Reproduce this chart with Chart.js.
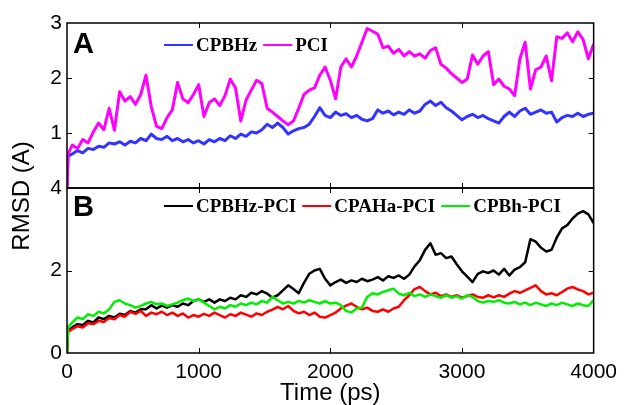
<!DOCTYPE html>
<html>
<head>
<meta charset="utf-8">
<script src="https://cdn.jsdelivr.net/npm/chart.js@4.4.0/dist/chart.umd.min.js"></script>
<style>
  html, body { margin: 0; padding: 0; background: #fff; }
  #wrap { position: relative; width: 624px; height: 405px; }
</style>
</head>
<body>
<div id="wrap"><canvas id="rmsd" width="624" height="405"></canvas></div>
<script>
// RMSD of the complexes over a 4 ns run, two stacked panels sharing the time axis

const timePs = [
  0, 8, 40, 80, 120, 160, 200, 240, 280, 320, 360, 400, 440, 480, 520, 560, 600, 640, 680, 720, 760, 800, 840, 880, 920, 960, 1000,
  1040, 1080, 1120, 1160, 1200, 1240, 1280, 1320, 1360, 1400, 1440, 1480, 1520, 1560, 1600, 1640, 1680, 1720, 1760, 1800, 1840, 1880, 1920, 1960, 2000,
  2040, 2080, 2120, 2160, 2200, 2240, 2280, 2320, 2360, 2400, 2440, 2480, 2520, 2560, 2600, 2640, 2680, 2720, 2760, 2800, 2840, 2880, 2920, 2960, 3000,
  3040, 3080, 3120, 3160, 3200, 3240, 3280, 3320, 3360, 3400, 3440, 3480, 3520, 3560, 3600, 3640, 3680, 3720, 3760, 3800, 3840, 3880, 3920, 3960, 4000
]

// panel A
const cpbhz = [
  0, 0.58, 0.62, 0.68, 0.64, 0.72, 0.70, 0.76, 0.74, 0.82, 0.80, 0.84, 0.78, 0.85, 0.82, 0.90, 0.86, 0.98, 0.90, 0.88, 0.94, 0.86, 0.90, 0.84, 0.88, 0.82, 0.86,
  0.80, 0.88, 0.84, 0.90, 0.86, 0.95, 0.90, 0.98, 0.94, 1.02, 1.00, 1.06, 1.16, 1.10, 1.18, 1.10, 0.98, 1.04, 1.08, 1.10, 1.16, 1.30, 1.46, 1.32, 1.28,
  1.38, 1.32, 1.35, 1.28, 1.32, 1.25, 1.22, 1.26, 1.42, 1.36, 1.40, 1.33, 1.38, 1.34, 1.42, 1.36, 1.40, 1.52, 1.58, 1.50, 1.56, 1.46, 1.40, 1.32, 1.24,
  1.30, 1.34, 1.28, 1.32, 1.26, 1.22, 1.18, 1.30, 1.38, 1.30, 1.40, 1.45, 1.34, 1.38, 1.42, 1.36, 1.38, 1.20, 1.28, 1.32, 1.30, 1.36, 1.30, 1.34, 1.36
]
const pci = [
  0, 0.62, 0.78, 0.72, 0.88, 0.82, 1.02, 1.18, 1.06, 1.45, 1.05, 1.75, 1.58, 1.66, 1.52, 1.70, 2.05, 1.48, 1.12, 1.08, 1.28, 1.42, 1.92, 1.62, 1.55, 1.70, 1.88,
  1.30, 1.55, 1.62, 1.50, 1.68, 1.98, 1.82, 1.22, 1.60, 1.78, 1.96, 1.90, 1.45, 1.38, 1.30, 1.22, 1.15, 1.22, 1.45, 1.70, 1.78, 1.82, 2.05, 2.20, 1.96,
  1.62, 2.20, 2.35, 2.20, 2.40, 2.65, 2.90, 2.85, 2.80, 2.55, 2.58, 2.45, 2.52, 2.40, 2.48, 2.40, 2.44, 2.36, 2.50, 2.55, 2.25, 2.18, 2.08, 2.00, 1.92,
  1.98, 2.42, 2.25, 2.40, 2.48, 1.88, 1.98, 1.85, 1.80, 1.68, 2.35, 2.65, 1.80, 2.15, 2.20, 2.40, 1.95, 2.75, 2.72, 2.82, 2.66, 2.84, 2.70, 2.35, 2.62
]

// panel B
const cpbhzPci = [
  0, 0.55, 0.62, 0.70, 0.68, 0.78, 0.74, 0.86, 0.82, 0.90, 0.86, 0.95, 0.92, 1.02, 0.98, 1.06, 1.06, 1.16, 1.08, 1.15, 1.10, 1.16, 1.12, 1.20, 1.16, 1.26, 1.30,
  1.24, 1.30, 1.22, 1.30, 1.26, 1.34, 1.30, 1.40, 1.36, 1.46, 1.42, 1.50, 1.44, 1.34, 1.40, 1.52, 1.64, 1.55, 1.45, 1.70, 1.92, 2.00, 2.04, 1.80, 1.64,
  1.72, 1.78, 1.70, 1.76, 1.72, 1.80, 1.74, 1.78, 1.84, 1.76, 1.86, 1.82, 1.88, 1.80, 1.90, 2.10, 2.25, 2.50, 2.66, 2.38, 2.42, 2.30, 2.34, 2.15, 1.98,
  1.85, 1.72, 1.92, 1.98, 1.94, 2.00, 1.90, 2.04, 1.88, 2.02, 2.08, 2.20, 2.76, 2.70, 2.55, 2.46, 2.50, 2.80, 3.02, 3.10, 3.26, 3.38, 3.44, 3.36, 3.15
]
const cpahaPci = [
  0, 0.52, 0.58, 0.65, 0.62, 0.72, 0.70, 0.78, 0.75, 0.85, 0.82, 0.92, 0.88, 1.00, 0.95, 1.02, 0.90, 0.98, 0.94, 1.00, 0.92, 0.98, 0.90, 0.96, 0.86, 0.92, 0.88,
  0.95, 0.90, 0.98, 0.92, 0.86, 0.94, 0.90, 0.98, 0.93, 0.88, 0.96, 0.92, 1.00, 1.05, 1.12, 1.06, 1.14, 1.02, 0.96, 1.00, 0.92, 0.98, 0.88, 0.86, 0.92,
  0.98, 1.08, 1.15, 1.20, 1.12, 1.06, 1.10, 1.02, 1.00, 1.06, 1.00, 1.08, 1.12, 1.28, 1.40, 1.55, 1.60, 1.50, 1.42, 1.46, 1.38, 1.42, 1.36, 1.40, 1.34,
  1.38, 1.42, 1.36, 1.34, 1.40, 1.35, 1.40, 1.36, 1.44, 1.50, 1.46, 1.52, 1.58, 1.64, 1.50, 1.42, 1.45, 1.40, 1.48, 1.56, 1.60, 1.54, 1.50, 1.42, 1.46
]
const cpbhPci = [
  0, 0.62, 0.74, 0.86, 0.82, 0.94, 0.90, 1.00, 0.96, 1.06, 1.24, 1.28, 1.20, 1.16, 1.10, 1.14, 1.20, 1.24, 1.18, 1.20, 1.14, 1.18, 1.22, 1.28, 1.32, 1.26, 1.30,
  1.22, 1.14, 1.06, 1.12, 1.08, 1.16, 1.12, 1.20, 1.16, 1.22, 1.18, 1.26, 1.22, 1.36, 1.28, 1.20, 1.24, 1.20, 1.26, 1.22, 1.28, 1.24, 1.20, 1.26, 1.20,
  1.22, 1.16, 1.02, 0.98, 1.08, 1.10, 1.36, 1.45, 1.42, 1.48, 1.52, 1.56, 1.44, 1.40, 1.46, 1.38, 1.42, 1.36, 1.42, 1.38, 1.34, 1.40, 1.34, 1.38, 1.32,
  1.40, 1.36, 1.26, 1.22, 1.26, 1.24, 1.28, 1.22, 1.20, 1.24, 1.18, 1.22, 1.16, 1.22, 1.18, 1.14, 1.20, 1.16, 1.22, 1.18, 1.14, 1.20, 1.16, 1.14, 1.28
]

const timeTicks = [0, 1000, 2000, 3000, 4000]
const topTicks = [1, 2, 3]
const bottomTicks = [0, 2, 4]

const SANS = "'Liberation Sans', Arial, sans-serif"
const SERIF = "'Liberation Serif', 'Times New Roman', serif"

const panels = [
  { axis: 'yA', letter: 'A', letterDy: 30, legendDy: 22,
    legend: [['CPBHz', '#3333ff'], ['PCI', '#ff00ff']] },
  { axis: 'yB', letter: 'B', letterDy: 28, legendDy: 18,
    legend: [['CPBHz-PCI', '#000000'], ['CPAHa-PCI', '#ff0000'], ['CPBh-PCI', '#00ee00']] }
]

function series(label, values, color, axis, order, width) {
  return {
    label,
    data: timePs.map((t, i) => ({ x: t, y: values[i] })),
    yAxisID: axis,
    borderColor: color,
    borderWidth: width,
    borderJoinStyle: 'round',
    pointRadius: 0,
    tension: 0,
    order
  }
}

// box, inward tick marks, panel letters and in-panel legends
const panelDecor = {
  id: 'panelDecor',
  afterDatasetsDraw(chart) {
    const { ctx, chartArea: area, scales } = chart
    const x = scales.x
    ctx.save()
    ctx.strokeStyle = '#000'

    panels.forEach((p) => {
      const y = scales[p.axis]
      ctx.lineWidth = 1.5
      ctx.strokeRect(area.left, y.top, area.right - area.left, y.bottom - y.top)

      ctx.lineWidth = 1
      ctx.beginPath()
      timeTicks.slice(1, -1).forEach((t) => {
        const px = Math.round(x.getPixelForValue(t)) + 0.5
        ctx.moveTo(px, y.top); ctx.lineTo(px, y.top + 5)
        ctx.moveTo(px, y.bottom); ctx.lineTo(px, y.bottom - 5)
      })
      y.ticks.forEach((tk) => {
        if (tk.value <= y.min || tk.value >= y.max) return
        const py = Math.round(y.getPixelForValue(tk.value)) + 0.5
        ctx.moveTo(area.left, py); ctx.lineTo(area.left + 5, py)
        ctx.moveTo(area.right, py); ctx.lineTo(area.right - 5, py)
      })
      ctx.stroke()

      ctx.fillStyle = '#000'
      ctx.font = 'bold 29px ' + SANS
      ctx.textAlign = 'left'
      ctx.textBaseline = 'alphabetic'
      ctx.fillText(p.letter, area.left + 6, y.top + p.letterDy)

      // legend entries: short line then bold label
      ctx.font = 'bold 19px ' + SERIF
      ctx.textBaseline = 'middle'
      let lx = area.left + 97
      const ly = y.top + p.legendDy
      p.legend.forEach(([name, color]) => {
        ctx.strokeStyle = color
        ctx.lineWidth = 2
        ctx.beginPath()
        ctx.moveTo(lx, ly); ctx.lineTo(lx + 29, ly)
        ctx.stroke()
        lx += 32
        ctx.fillStyle = '#000'
        ctx.fillText(name, lx, ly + 1)
        lx += ctx.measureText(name).width + 6
      })
      ctx.strokeStyle = '#000'
    })

    // shared y title spanning both panels
    ctx.translate(22, 196)
    ctx.rotate(-Math.PI / 2)
    ctx.font = '24px ' + SANS
    ctx.fillStyle = '#000'
    ctx.textAlign = 'center'
    ctx.textBaseline = 'middle'
    ctx.fillText('RMSD (A)', 0, 0)
    ctx.restore()
  }
}

function yScale(min, max, tickValues) {
  return {
    type: 'linear',
    position: 'left',
    stack: 'rmsd',
    stackWeight: 1,
    min, max,
    afterBuildTicks: (s) => { s.ticks = tickValues.map((v) => ({ value: v })) },
    afterFit: (s) => { s.width = 67 },
    grid: { display: false, drawTicks: false },
    border: { display: false },
    ticks: { color: '#000', padding: 5, font: { size: 21, family: SANS } }
  }
}

Chart.defaults.font.family = SANS
Chart.defaults.color = '#000'

new Chart(document.getElementById('rmsd'), {
  type: 'line',
  data: {
    datasets: [
      series('CPBHz', cpbhz, '#3333ff', 'yA', 1, 3),
      series('PCI', pci, '#ff00ff', 'yA', 0, 3),
      series('CPBHz-PCI', cpbhzPci, '#000000', 'yB', 2, 2.5),
      series('CPAHa-PCI', cpahaPci, '#ff0000', 'yB', 1, 2.5),
      series('CPBh-PCI', cpbhPci, '#00ee00', 'yB', 0, 2.5)
    ]
  },
  options: {
    responsive: false,
    devicePixelRatio: 1,
    animation: false,
    layout: { padding: { left: 0, right: 29, top: 23, bottom: 0 } },
    plugins: { legend: { display: false }, tooltip: { enabled: false } },
    scales: {
      x: {
        type: 'linear',
        min: 0, max: 4000,
        afterBuildTicks: (s) => { s.ticks = timeTicks.map((v) => ({ value: v })) },
        afterFit: (s) => { s.height = 52 },
        grid: { display: false, drawTicks: false },
        border: { display: false },
        ticks: {
          color: '#000', padding: 7, maxRotation: 0,
          font: { size: 21, family: SANS },
          callback: (v) => String(v)
        },
        title: { display: true, text: 'Time (ps)', color: '#000', padding: 0, font: { size: 24, lineHeight: 1, family: SANS } }
      },
      yB: yScale(0, 4, bottomTicks),
      yA: yScale(0, 3, topTicks)
    }
  },
  plugins: [panelDecor]
})
</script>
</body>
</html>
